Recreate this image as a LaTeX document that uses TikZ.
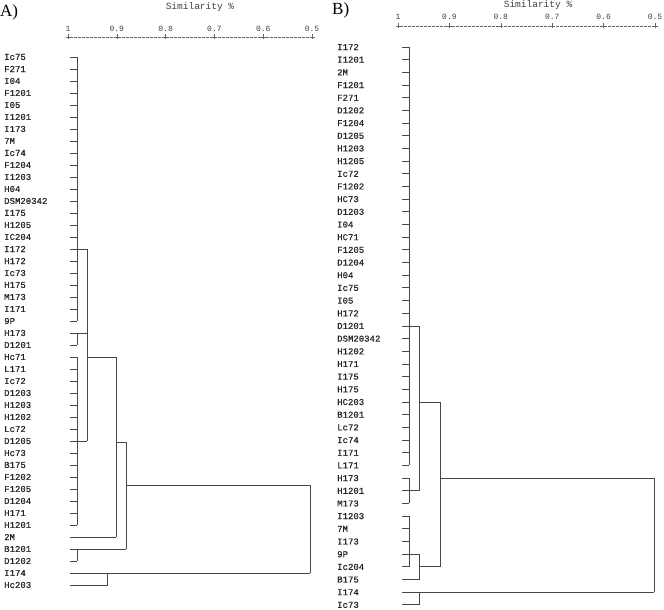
\documentclass[tikz,border=0pt]{standalone}
\usepackage{fontspec}
\setmainfont{Liberation Serif}
\newfontfamily\labfont[FakeBold=0.6]{Liberation Mono}
\newfontfamily\axfont{Liberation Mono}
\begin{document}
\begin{tikzpicture}[x=1pt,y=-1pt,
  lab/.style={anchor=west,inner sep=0pt,font=\labfont\fontsize{9}{9}\selectfont,text=black!85},
  axlab/.style={inner sep=0pt,font=\axfont\fontsize{8}{8}\selectfont,text=black!75},
  ttl/.style={inner sep=0pt,font=\axfont\fontsize{9.5}{9.5}\selectfont,text=black!75},
  panel/.style={inner sep=0pt,font=\fontsize{17}{17}\selectfont,anchor=west},
  ln/.style={draw=black!72,line width=0.9pt},
  ax/.style={draw=black!60,line width=0.5pt,dash pattern=on 2.5pt off 1.5pt},
  tk/.style={draw=black!60,line width=0.6pt}]
\useasboundingbox (0,0) rectangle (664,610);

% ---------- panel titles ----------
\node[panel] (pA) at (0,12) {A)};
\node[panel] (pB) at (332,10) {B)};

% ---------- axis A ----------
\node[ttl] (tA) at (200,7) {Similarity \%};
\draw[ax] (66,37) -- (314,37);
\foreach \v [count=\k from 0] in {1,0.9,0.8,0.7,0.6,0.5}{
  \node[axlab] (axa\k) at ({68+48.8*\k},29) {\v};
  \draw[tk] ({68+48.8*\k},34.5) -- ({68+48.8*\k},39.5);
  \draw[tk] ({65.5+48.8*\k},37) -- ({70.5+48.8*\k},37);
}

% ---------- axis B ----------
\node[ttl] (tB) at (538,5) {Similarity \%};
\draw[ax] (396,26) -- (657,26);
\foreach \v [count=\k from 0] in {1,0.9,0.8,0.7,0.6,0.5}{
  \node[axlab] (axb\k) at ({398+51.4*\k},16.5) {\v};
  \draw[tk] ({398+51.4*\k},23.5) -- ({398+51.4*\k},28.5);
  \draw[tk] ({395.5+51.4*\k},26) -- ({400.5+51.4*\k},26);
}

% ---------- panel A labels and leaf ticks ----------
\foreach \t [count=\i from 0] in {Ic75,F271,I04,F1201,I05,I1201,I173,7M,Ic74,F1204,I1203,H04,DSM20342,I175,H1205,IC204,I172,H172,Ic73,H175,M173,I171,9P,H173,D1201,Hc71,L171,Ic72,D1203,H1203,H1202,Lc72,D1205,Hc73,B175,F1202,F1205,D1204,H171,H1201,2M,B1201,D1202,I174,Hc203}{
  \node[lab] (a\i) at (4,{57+12*\i}) {\t};
  \coordinate (la\i) at (70,{57+12*\i});
  \draw[ln] (la\i) -- +(7,0);
}
% clusters A
\draw[ln] (77,57) -- (77,321);
\draw[ln] (77,333) -- (77,345);
\draw[ln] (77,357) -- (77,525);
\draw[ln] (77,549) -- (77,561);
\draw[ln] (77,249) -- (87,249);
\draw[ln] (77,333) -- (87,333);
\draw[ln] (77,441) -- (87,441);
\draw[ln] (87,249) -- (87,441);
\draw[ln] (87,357) -- (116,357) -- (116,537);
\draw[ln] (la40) -- (116,537);
\draw[ln] (116,442) -- (126,442) -- (126,549);
\draw[ln] (la41) -- (126,549);
\draw[ln] (126,485) -- (310,485) -- (310,573);
\draw[ln] (la43) -- (310,573);
\draw[ln] (la44) -- (107,585) -- (107,573);

% ---------- panel B labels and leaf ticks ----------
\foreach \t [count=\i from 0] in {I172,I1201,2M,F1201,F271,D1202,F1204,D1205,H1203,H1205,Ic72,F1202,HC73,D1203,I04,HC71,F1205,D1204,H04,Ic75,I05,H172,D1201,DSM20342,H1202,H171,I175,H175,HC203,B1201,Lc72,Ic74,I171,L171,H173,H1201,M173,I1203,7M,I173,9P,Ic204,B175,I174,Ic73}{
  \node[lab] (b\i) at (337,{47+12.68*\i}) {\t};
  \coordinate (lb\i) at (402,{47+12.68*\i});
  \draw[ln] (lb\i) -- +(7,0);
}
% clusters B
\draw[ln] (lb0) ++(7,0) -- (409,{47+12.68*33});
\draw[ln] (lb34) ++(7,0) -- (409,{47+12.68*36});
\draw[ln] (lb37) ++(7,0) -- (409,{47+12.68*41});
\draw[ln] (lb22) ++(7,0) -- (419,{47+12.68*22}) -- (419,{47+12.68*35}) -- (409,{47+12.68*35});
\draw[ln] (419,{47+12.68*28}) -- (440,{47+12.68*28}) -- (440,{47+12.68*41});
\draw[ln] (lb40) ++(7,0) -- (419,{47+12.68*40}) -- (419,{47+12.68*42});
\draw[ln] (lb42) -- (419,{47+12.68*42});
\draw[ln] (419,{47+12.68*41}) -- (440,{47+12.68*41});
\draw[ln] (440,{47+12.68*34}) -- (654,{47+12.68*34}) -- (654,{47+12.68*43});
\draw[ln] (lb43) -- (654,{47+12.68*43});
\draw[ln] (lb44) -- (419,{47+12.68*44}) -- (419,{47+12.68*43});
\end{tikzpicture}
\end{document}
